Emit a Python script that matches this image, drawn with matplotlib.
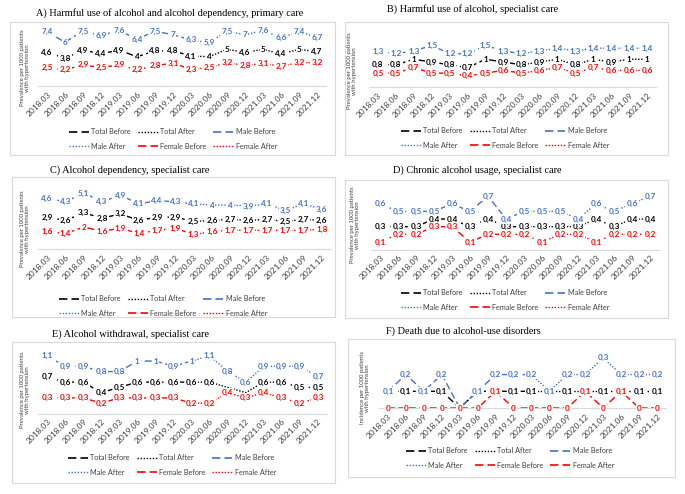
import matplotlib.pyplot as plt
from matplotlib.patches import Rectangle
from matplotlib.lines import Line2D

dates = ['2018.03', '2018.06', '2018.09', '2018.12', '2019.03', '2019.06', '2019.09', '2019.12',
         '2020.03', '2020.06', '2020.09', '2020.12', '2021.03', '2021.06', '2021.09', '2021.12']

# A) primary care
a_total = [4.6, 3.8, 4.9, 4.4, 4.9, 4, 4.8, 4.8, 4.1, 4, 5, 4.6, 5, 4.4, 5, 4.7]
a_male = [7.4, 6, 7.5, 6.9, 7.6, 6.4, 7.5, 7, 6.3, 5.9, 7.5, 7, 7.6, 6.6, 7.4, 6.7]
a_female = [2.5, 2.2, 2.9, 2.5, 2.9, 2.2, 2.8, 3.1, 2.3, 2.5, 3.2, 2.8, 3.1, 2.7, 3.2, 3.2]
# B) harmful use, specialist care
b_total = [0.8, 0.8, 1, 0.9, 0.8, 0.7, 1, 0.9, 0.8, 0.9, 1, 0.8, 1, 0.9, 1, 1]
b_male = [1.3, 1.2, 1.3, 1.5, 1.2, 1.2, 1.5, 1.3, 1.2, 1.3, 1.4, 1.3, 1.4, 1.4, 1.4, 1.4]
b_female = [0.5, 0.5, 0.7, 0.5, 0.5, 0.4, 0.5, 0.6, 0.5, 0.6, 0.7, 0.5, 0.7, 0.6, 0.6, 0.6]
# C) dependency, specialist care
c_total = [2.9, 2.6, 3.3, 2.8, 3.2, 2.6, 2.9, 2.9, 2.5, 2.6, 2.7, 2.6, 2.7, 2.5, 2.7, 2.6]
c_male = [4.6, 4.3, 5.1, 4.3, 4.9, 4.1, 4.4, 4.3, 4.1, 4, 4, 3.9, 4.1, 3.5, 4.1, 3.6]
c_female = [1.6, 1.4, 2, 1.6, 1.9, 1.4, 1.7, 1.9, 1.3, 1.6, 1.7, 1.7, 1.7, 1.7, 1.7, 1.8]
# D) chronic usage
d_total = [0.3, 0.3, 0.3, 0.4, 0.4, 0.3, 0.4, 0.3, 0.3, 0.3, 0.3, 0.3, 0.4, 0.3, 0.4, 0.4]
d_male = [0.6, 0.5, 0.5, 0.5, 0.6, 0.5, 0.7, 0.4, 0.5, 0.5, 0.5, 0.4, 0.6, 0.5, 0.6, 0.7]
d_female = [0.1, 0.2, 0.2, 0.3, 0.3, 0.1, 0.2, 0.2, 0.2, 0.1, 0.2, 0.2, 0.1, 0.2, 0.2, 0.2]
# E) withdrawal
e_total = [0.7, 0.6, 0.6, 0.4, 0.5, 0.6, 0.6, 0.6, 0.6, 0.6, 0.5, 0.4, 0.6, 0.6, 0.5, 0.5]
e_male = [1.1, 0.9, 0.9, 0.8, 0.8, 1, 1, 0.9, 1, 1.1, 0.8, 0.6, 0.9, 0.9, 0.9, 0.7]
e_female = [0.3, 0.3, 0.3, 0.2, 0.3, 0.3, 0.3, 0.3, 0.2, 0.2, 0.4, 0.3, 0.4, 0.3, 0.2, 0.3]
e_total_nolabel = [10, 11]
# F) deaths
f_total = [0.1, 0.1, 0.1, 0.1, 0, 0.1, 0.1, 0.1, 0.1, 0.1, 0.1, 0.1, 0.1, 0.1, 0.1, 0.1]
f_male = [0.1, 0.2, 0.1, 0.2, 0, 0.1, 0.2, 0.2, 0.2, 0.1, 0.2, 0.2, 0.3, 0.2, 0.2, 0.2]
f_female = [0, 0, 0, 0, 0, 0, 0.1, 0, 0, 0, 0, 0.1, 0, 0.1, 0, 0]

W, H = 685, 494
fig = plt.figure(figsize=(W / 100, H / 100), dpi=100)

BLACK, BLUE, RED = '#000000', '#4472C4', '#FF0000'
DASH = (0, (5, 2.5))
DOT = (0, (1, 1.2))
LABFONT = 'Lato'
split = 8  # last "before" point is 2020.03


def fmt(v):
    return f'{v:g}'.replace('.', ',')


def panel(title, total, male, female, ylabel, box, title_xy, ylab_xy, ax_px, ymax,
          leg_xy, nolabel_total=(), female_after=DOT):
    x0, y0, x1, y1 = box
    fig.patches.append(Rectangle((x0 / W, 1 - y1 / H), (x1 - x0) / W, (y1 - y0) / H,
                                 transform=fig.transFigure, fill=False,
                                 ec='#d9d9d9', lw=0.8))
    fig.text(title_xy[0] / W, 1 - title_xy[1] / H, title, ha='center', va='center',
             family='Liberation Serif', fontsize=7.4)
    fig.text(ylab_xy[0] / W, 1 - ylab_xy[1] / H, ylabel, ha='center', va='center',
             rotation=90, fontsize=4.3, family=LABFONT, color='#404040',
             linespacing=1.2)

    left, right, top, base = ax_px
    ax = fig.add_axes([left / W, 1 - base / H, (right - left) / W, (base - top) / H])
    x = list(range(len(dates)))

    series = [(total, BLACK, DOT, 2), (male, BLUE, DOT, 3), (female, RED, female_after, 4)]
    for vals, col, after_ls, z in series:
        ax.plot(x[:split + 1], vals[:split + 1], color=col, ls=DASH, lw=1.0, zorder=z)
        ax.plot(x[split:], vals[split:], color=col, ls=after_ls, lw=1.0, zorder=z)
    for vals, col, _, z in series:
        for i, v in enumerate(vals):
            if vals is total and i in nolabel_total:
                continue
            ax.text(i, v, fmt(v), ha='center', va='center', fontsize=5.9,
                    weight='bold', color=col, family=LABFONT, zorder=10 + z,
                    clip_on=False,
                    bbox=dict(boxstyle='square,pad=0.12', fc='white', ec='none'))

    ax.set_xlim(-0.5, len(dates) - 0.5)
    ax.set_ylim(0, ymax)
    ax.set_xticks(x)
    ax.set_xticklabels(dates, rotation=45, ha='right', rotation_mode='anchor',
                       fontsize=6, color='#404040', family=LABFONT)
    ax.set_yticks([])
    ax.tick_params(axis='x', length=0, pad=3)
    for s in ['top', 'right', 'left']:
        ax.spines[s].set_visible(False)
    ax.spines['bottom'].set_color('#d9d9d9')
    ax.spines['bottom'].set_linewidth(0.8)
    ax.spines['bottom'].set_zorder(1)
    ax.patch.set_alpha(0)

    h = {
        'Total Before': Line2D([], [], color=BLACK, ls=DASH, lw=1.2),
        'Total After': Line2D([], [], color=BLACK, ls=DOT, lw=1.0),
        'Male Before': Line2D([], [], color=BLUE, ls=DASH, lw=1.2),
        'Male After': Line2D([], [], color=BLUE, ls=DOT, lw=1.0),
        'Female Before': Line2D([], [], color=RED, ls=DASH, lw=1.2),
        'Female After': Line2D([], [], color=RED, ls=female_after,
                               lw=1.2 if female_after == DASH else 1.0),
    }
    order = ['Total Before', 'Male After', 'Total After', 'Female Before',
             'Male Before', 'Female After']
    fig.legend([h[k] for k in order], order, loc='center',
               bbox_to_anchor=(leg_xy[0] / W, 1 - leg_xy[1] / H), ncol=3,
               frameon=False, prop={'family': LABFONT, 'size': 5.2},
               labelcolor='#404040', handlelength=2.8, handletextpad=0.35,
               columnspacing=0.9, labelspacing=1.0, borderpad=0)


prev = 'Prevalence per 1000 patients\nwith hypertension'
panel('A) Harmful use of alcohol and alcohol dependency, primary care',
      a_total, a_male, a_female, prev,
      (10, 22, 335, 155), (170, 13), (25, 68), (38, 326, 26, 86), 8.2, (173, 139))
panel('B) Harmful use of alcohol, specialist care',
      b_total, b_male, b_female, prev,
      (345, 22, 668, 155), (473, 9), (352, 71), (369, 656, 26, 87), 2.2, (505, 138))
panel('C) Alcohol dependency, specialist care',
      c_total, c_male, c_female, prev,
      (12, 177, 335, 317), (130, 170), (25, 229), (38, 331, 188, 249), 5.55, (163, 306))
panel('D) Chronic alcohol usage, specialist care',
      d_total, d_male, d_female, prev,
      (345, 180, 668, 318), (477, 170), (355, 225), (371, 659, 190, 249.6), 0.78, (505, 300))
panel('E) Alcohol withdrawal, specialist care',
      e_total, e_male, e_female, prev,
      (12, 342, 335, 483), (130, 334), (25, 390), (38, 327, 350, 413.7), 1.21, (172, 465),
      nolabel_total=e_total_nolabel)
panel('F) Death due to alcohol-use disorders',
      f_total, f_male, f_female, 'Incidence per 1000 patients\nwith hypertension',
      (348, 339, 675, 477), (463, 331), (365, 388), (379, 666, 350, 408), 0.347, (510, 458),
      female_after=DASH)

fig.savefig('out.png', dpi=100)
